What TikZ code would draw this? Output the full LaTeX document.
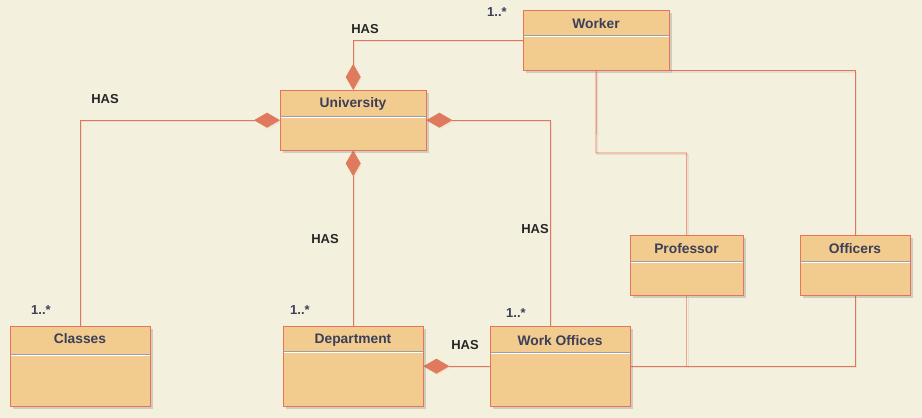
\documentclass[tikz,border=0pt]{standalone}
\usepackage{fontspec}
\setmainfont{Liberation Sans}
\usetikzlibrary{arrows.meta,shadows,calc}
\definecolor{bg}{HTML}{F4F0DE}
\definecolor{boxfill}{HTML}{F2CB8E}
\definecolor{boxline}{HTML}{E8735A}
\definecolor{dfill}{HTML}{E07A5F}
\definecolor{txt}{HTML}{3B3F58}
\definecolor{lite}{HTML}{EDA78E}
\definecolor{divline}{HTML}{9A9EA8}
\tikzset{
  title/.style={font=\bfseries\fontsize{13.8}{15}\selectfont, text=txt, anchor=center},
  lshadow/.style={preaction={draw=black, opacity=0.06, line width=1.4pt, transform canvas={shift={(1.5pt,-1.5pt)}}}},
  conn/.style={draw=boxline, line width=0.9pt, lshadow},
  liteconn/.style={draw=lite, line width=1.2pt, lshadow},
  comp/.style={conn, {Diamond[length=26pt,width=15pt,fill=dfill,color=dfill]}-},
  lbl/.style={font=\bfseries\fontsize{13}{14}\selectfont, text=black!85},
  mult/.style={font=\bfseries\fontsize{13}{14}\selectfont, text=txt},
  frame/.style={anchor=north west, inner sep=0pt, rectangle},
}
\begin{document}
\begin{tikzpicture}[x=1pt,y=-1pt]
\fill[bg] (0,0) rectangle (922,418);
\useasboundingbox (0,0) rectangle (922,418);

% class frames (named, drawn below)
\node[frame, minimum width=146pt, minimum height=60pt] (worker) at (523,10) {};
\node[frame, minimum width=146pt, minimum height=60pt] (univ) at (280,90) {};
\node[frame, minimum width=140pt, minimum height=80pt] (classes) at (10,326) {};
\node[frame, minimum width=140pt, minimum height=80pt] (dept) at (283,326) {};
\node[frame, minimum width=140pt, minimum height=80pt] (wo) at (490,326) {};
\node[frame, minimum width=113pt, minimum height=60pt] (prof) at (630,235) {};
\node[frame, minimum width=110pt, minimum height=60pt] (off) at (800,235) {};

% connectors
\coordinate (bend1) at (596,153);
\draw[conn] (worker.south) -- (bend1) -| (prof.north);
\draw[conn] (worker.south east) -| (off.north);
\coordinate (pj) at (prof.south |- wo.east);
\draw[liteconn] (prof.south) -- (pj);
\draw[conn] (wo.east) -| (off.south);
\draw[comp] (univ.north) |- (worker.west);
\draw[comp] (univ.west) -| (classes.north);
\draw[comp] (univ.east) -| ([xshift=-10pt]wo.north);
\draw[comp] (univ.south) -- (dept.north);
\draw[comp] (dept.east) -- (wo.west);

% boxes
\foreach \n in {worker,univ,classes,dept,wo,prof,off}{
  \path[draw=boxline, fill=boxfill, line width=0.9pt,
    drop shadow={shadow xshift=2.5pt, shadow yshift=-2.5pt, opacity=0.25, fill=black!60}]
    (\n.north west) rectangle (\n.south east);
}

% dividers
\foreach \n/\y in {worker/35, univ/116, classes/354, dept/351, wo/352, prof/261, off/261}{
  \draw[divline, line width=0.8pt] (\n.west |- 0,\y) -- (\n.east |- 0,\y);
  \draw[white, line width=0.6pt] ([xshift=0.5pt]\n.west |- 0,\y+1.2) -- ([xshift=-0.5pt]\n.east |- 0,\y+1.2);
}

% titles
\node[title] (tworker) at (596,24) {Worker};
\node[title] (tuniv) at (353,104) {University};
\node[title] (tclasses) at (80,338.5) {Classes};
\node[title] (tdept) at (353,340.5) {Department};
\node[title] (two) at (560,340.5) {Work Offices};
\node[title] (tprof) at (686.5,249) {Professor};
\node[title] (toff) at (855,249) {Officers};

% labels
\node[lbl] (h1) at (365,29) {HAS};
\node[lbl] (h2) at (105,99) {HAS};
\node[lbl] (h3) at (325,239) {HAS};
\node[lbl] (h4) at (535,229) {HAS};
\node[lbl] (h5) at (465,345) {HAS};
\node[mult] (m1) at (497,12) {1..*};
\node[mult] (m2) at (41,310) {1..*};
\node[mult] (m3) at (300,310) {1..*};
\node[mult] (m4) at (516,313) {1..*};
\end{tikzpicture}
\end{document}
